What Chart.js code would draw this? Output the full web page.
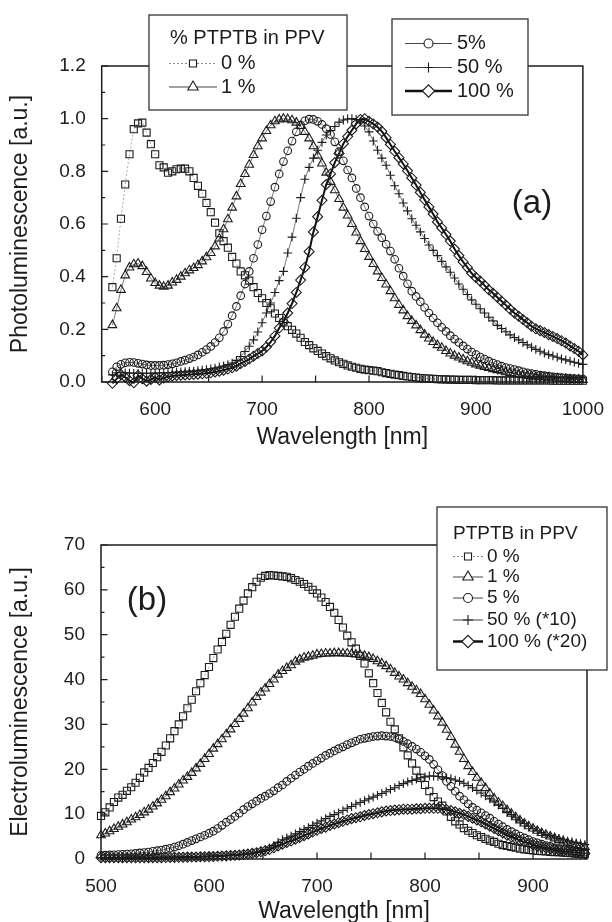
<!DOCTYPE html>
<html lang="en">
<head>
<meta charset="UTF-8">
<script src="https://cdn.jsdelivr.net/npm/chart.js"></script>
<style>
  body { margin: 0; width: 612px; height: 922px; overflow: hidden; background: #fff; }
  canvas { position: absolute; left: 0; }
  #pl { top: 0; }
  #el { top: 461px; }
</style>
</head>
<body>
<canvas id="pl" width="612" height="461"></canvas>
<canvas id="el" width="612" height="461"></canvas>
<script>
// ---------- (a) photoluminescence, normalised ----------
const plWavelength = [
  560, 564, 568, 572, 576, 580, 584, 588, 592, 596,
  600, 604, 608, 612, 616, 620, 624, 628, 632, 636,
  640, 644, 648, 652, 656, 660, 664, 668, 672, 676,
  680, 684, 688, 692, 696, 700, 704, 708, 712, 716,
  720, 724, 728, 732, 736, 740, 744, 748, 752, 756,
  760, 764, 768, 772, 776, 780, 784, 788, 792, 796,
  800, 804, 808, 812, 816, 820, 824, 828, 832, 836,
  840, 844, 848, 852, 856, 860, 864, 868, 872, 876,
  880, 884, 888, 892, 896, 900, 904, 908, 912, 916,
  920, 924, 928, 932, 936, 940, 944, 948, 952, 956,
  960, 964, 968, 972, 976, 980, 984, 988, 992, 996,
  1000
];
const pl0 = [
  .36, .47, .62, .75, .865, .96, .982, .985, .947, .903,
  .865, .823, .815, .795, .80, .808, .81, .81, .80, .775,
  .745, .715, .68, .645, .605, .565, .535, .51, .475, .45,
  .42, .405, .385, .36, .338, .318, .30, .28, .26, .243,
  .226, .212, .198, .184, .168, .152, .14, .128, .118, .108,
  .098, .09, .082, .075, .069, .063, .058, .054, .05, .047,
  .045, .043, .041, .037, .034, .031, .028, .026, .023, .021,
  .019, .017, .015, .014, .013, .012, .011, .01, .01, .009,
  .009, .008, .008, .008, .008, .007, .007, .007, .007, .007,
  .006, .006, .006, .006, .006, .006, .006, .006, .006, .006,
  .006, .006, .006, .005, .005, .005, .005, .005, .005, .005,
  .005
];
const pl1 = [
  .216, .28, .35, .405, .435, .447, .45, .44, .418, .393,
  .376, .366, .362, .366, .378, .388, .40, .413, .424, .433,
  .444, .458, .474, .49, .515, .545, .58, .618, .662, .705,
  .752, .79, .825, .862, .895, .925, .953, .975, .99, .997,
  1.0, .998, .994, .985, .972, .95, .925, .895, .86, .83,
  .795, .76, .728, .695, .662, .632, .6, .568, .535, .505,
  .475, .448, .42, .395, .37, .345, .318, .293, .272, .25,
  .232, .215, .197, .18, .165, .152, .14, .13, .118, .108,
  .1, .093, .086, .079, .073, .067, .062, .057, .053, .049,
  .045, .041, .037, .034, .031, .028, .026, .024, .022, .02,
  .018, .017, .015, .014, .013, .012, .011, .01, .009, .009,
  .008
];
const pl5 = [
  .039, .058, .067, .073, .075, .074, .071, .068, .065, .063,
  .063, .063, .064, .066, .069, .073, .078, .083, .089, .095,
  .103, .113, .123, .135, .15, .168, .192, .22, .252, .287,
  .328, .372, .42, .47, .522, .578, .63, .685, .74, .79,
  .837, .878, .915, .95, .976, .992, .998, .997, .99, .978,
  .962, .94, .912, .875, .84, .805, .775, .735, .70, .665,
  .63, .60, .572, .548, .523, .497, .466, .432, .402, .373,
  .345, .325, .305, .283, .262, .243, .225, .208, .192, .176,
  .163, .15, .137, .125, .114, .104, .095, .087, .079, .072,
  .066, .06, .055, .051, .047, .043, .039, .035, .032, .029,
  .026, .024, .022, .02, .019, .017, .016, .014, .013, .012,
  .011
];
const pl50 = [
  .027, .035, .036, .035, .034, .033, .033, .033, .033, .033,
  .034, .034, .035, .035, .036, .037, .038, .039, .04, .041,
  .043, .045, .047, .05, .053, .057, .061, .066, .072, .082,
  .097, .116, .136, .16, .19, .225, .262, .3, .34, .385,
  .42, .49, .55, .622, .70, .77, .815, .85, .88, .91,
  .938, .955, .97, .987, .995, .999, 1.0, .997, .99, .972,
  .95, .915, .88, .85, .823, .785, .745, .715, .68, .65,
  .62, .595, .57, .545, .52, .50, .48, .458, .437, .417,
  .395, .372, .352, .332, .312, .295, .278, .262, .246, .232,
  .215, .203, .191, .179, .169, .16, .15, .141, .132, .124,
  .117, .11, .104, .099, .094, .088, .084, .079, .075, .071,
  .067
];
const pl100 = [
  -.005, .012, .028, .018, .005, -.003, .025, .012, .003, .01,
  .018, .008, .015, .02, .023, .025, .026, .027, .028, .029,
  .03, .031, .033, .035, .038, .041, .045, .049, .054, .06,
  .07, .078, .087, .098, .108, .118, .133, .152, .175, .205,
  .229, .262, .298, .34, .387, .435, .495, .57, .628, .69,
  .75, .79, .833, .868, .905, .932, .956, .98, .997, 1.0,
  .99, .98, .968, .952, .928, .902, .876, .852, .828, .802,
  .775, .748, .72, .692, .665, .638, .608, .585, .56, .535,
  .505, .48, .456, .435, .413, .397, .383, .367, .35, .337,
  .322, .307, .292, .276, .262, .25, .237, .225, .212, .202,
  .195, .188, .18, .173, .165, .157, .148, .137, .127, .117,
  .103
];
const plLabels = ['0 %', '1 %', '5%', '50 %', '100 %'];

// ---------- (b) electroluminescence ----------
const elWavelength = [
  500, 504, 508, 512, 516, 520, 524, 528, 532, 536,
  540, 544, 548, 552, 556, 560, 564, 568, 572, 576,
  580, 584, 588, 592, 596, 600, 604, 608, 612, 616,
  620, 624, 628, 632, 636, 640, 644, 648, 652, 656,
  660, 664, 668, 672, 676, 680, 684, 688, 692, 696,
  700, 704, 708, 712, 716, 720, 724, 728, 732, 736,
  740, 744, 748, 752, 756, 760, 764, 768, 772, 776,
  780, 784, 788, 792, 796, 800, 804, 808, 812, 816,
  820, 824, 828, 832, 836, 840, 844, 848, 852, 856,
  860, 864, 868, 872, 876, 880, 884, 888, 892, 896,
  900, 904, 908, 912, 916, 920, 924, 928, 932, 936,
  940, 944, 948
];
const el0 = [
  9.6, 10.4, 11.5, 12.7, 13.7, 14.3, 15.2, 16.0, 17.0, 18.1,
  19.3, 20.3, 21.4, 22.7, 23.9, 25.3, 26.9, 28.5, 30.0, 31.8,
  33.6, 35.5, 37.4, 39.2, 41.0, 42.8, 44.8, 46.7, 48.4, 50.2,
  52.2, 54.0, 55.8, 57.6, 59.2, 60.6, 61.8, 62.7, 63.1, 63.3,
  63.2, 63.1, 63.0, 62.9, 62.6, 62.2, 61.8, 61.3, 60.7, 60.0,
  59.2, 58.3, 57.3, 56.2, 54.9, 53.3, 51.6, 49.8, 48.3, 46.9,
  45.3, 43.6, 41.4, 39.2, 37.0, 34.8, 32.7, 30.6, 28.9, 26.9,
  24.9, 23.1, 21.3, 19.7, 18.1, 16.5, 15.1, 13.8, 12.8, 11.9,
  10.6, 9.4, 8.4, 7.7, 6.9, 6.3, 5.8, 5.3, 4.9, 4.5,
  4.1, 3.8, 3.4, 3.1, 2.9, 2.7, 2.5, 2.3, 2.15, 2.0,
  1.9, 1.8, 1.75, 1.7, 1.6, 1.55, 1.5, 1.4, 1.35, 1.3,
  1.2, 1.15, 1.1
];
const el1 = [
  5.3, 5.7, 6.2, 6.7, 7.2, 7.7, 8.2, 8.8, 9.3, 9.8,
  10.4, 11.0, 11.7, 12.4, 13.2, 14.0, 14.9, 15.7, 16.6, 17.5,
  18.3, 19.2, 20.2, 21.2, 22.3, 23.4, 24.6, 25.6, 26.7, 27.8,
  28.9, 30.1, 31.2, 32.4, 33.6, 34.9, 36.1, 37.1, 38.0, 39.0,
  40.0, 41.1, 41.9, 42.6, 43.2, 44.0, 44.5, 44.9, 45.1, 45.3,
  45.6, 45.7, 45.8, 45.8, 45.9, 45.9, 45.8, 45.8, 45.7, 45.6,
  45.5, 45.3, 45.0, 44.6, 44.1, 43.6, 43.0, 42.3, 41.5, 40.7,
  40.0, 39.2, 38.4, 37.6, 36.8, 35.6, 34.4, 33.1, 31.8, 30.4,
  28.8, 27.2, 25.5, 23.9, 22.3, 20.7, 19.4, 18.1, 17.0, 15.8,
  14.6, 13.5, 12.6, 11.8, 10.9, 10.1, 9.3, 8.6, 7.9, 7.3,
  6.8, 6.3, 5.8, 5.4, 5.0, 4.6, 4.2, 3.9, 3.6, 3.3,
  3.1, 2.9, 2.7
];
const el5 = [
  0.8, 0.85, 0.9, 0.95, 1.0, 1.05, 1.1, 1.15, 1.25, 1.35,
  1.45, 1.55, 1.7, 1.85, 2.0, 2.2, 2.4, 2.65, 2.95, 3.3,
  3.7, 4.1, 4.5, 4.9, 5.3, 5.75, 6.2, 6.8, 7.5, 8.2,
  8.8, 9.5, 10.2, 11.0, 11.7, 12.3, 12.9, 13.5, 14.0, 14.6,
  15.2, 15.9, 16.5, 17.3, 18.0, 18.7, 19.4, 20.0, 20.7, 21.3,
  21.9, 22.5, 23.1, 23.6, 24.1, 24.6, 25.0, 25.5, 25.9, 26.3,
  26.7, 26.9, 27.1, 27.3, 27.4, 27.5, 27.4, 27.3, 27.1, 26.7,
  26.2, 25.7, 25.1, 24.5, 23.8, 23.0, 22.2, 21.1, 19.9, 18.6,
  17.3, 16.2, 15.1, 14.0, 13.2, 12.3, 11.5, 10.9, 10.3, 9.7,
  9.1, 8.4, 7.8, 7.2, 6.6, 6.1, 5.6, 5.1, 4.7, 4.3,
  3.9, 3.6, 3.3, 3.0, 2.8, 2.5, 2.3, 2.1, 1.95, 1.8,
  1.7, 1.6, 1.5
];
const el50 = [
  0.3, 0.3, 0.3, 0.3, 0.3, 0.32, 0.33, 0.34, 0.35, 0.36,
  0.37, 0.38, 0.39, 0.4, 0.41, 0.42, 0.43, 0.44, 0.45, 0.47,
  0.49, 0.51, 0.53, 0.56, 0.59, 0.62, 0.66, 0.7, 0.75, 0.8,
  0.86, 0.93, 1.0, 1.1, 1.2, 1.35, 1.55, 1.8, 2.1, 2.5,
  3.0, 3.7, 4.3, 4.7, 5.1, 5.6, 6.1, 6.6, 7.0, 7.5,
  8.0, 8.5, 9.0, 9.5, 9.9, 10.3, 10.8, 11.3, 11.7, 12.2,
  12.6, 13.0, 13.4, 13.8, 14.2, 14.6, 15.0, 15.5, 15.9, 16.4,
  16.8, 17.2, 17.5, 17.8, 18.1, 18.3, 18.5, 18.5, 18.4, 18.3,
  18.1, 17.9, 17.6, 17.3, 16.9, 16.4, 15.9, 15.3, 14.7, 14.1,
  13.4, 12.7, 12.0, 11.3, 10.5, 9.9, 9.2, 8.5, 7.9, 7.3,
  6.8, 6.3, 5.9, 5.5, 5.2, 4.9, 4.6, 4.3, 4.0, 3.8,
  3.6, 3.4, 3.2
];
const el100 = [
  0.3, 0.3, 0.3, 0.3, 0.3, 0.3, 0.3, 0.3, 0.3, 0.3,
  0.3, 0.3, 0.3, 0.3, 0.3, 0.32, 0.34, 0.36, 0.38, 0.4,
  0.42, 0.44, 0.46, 0.48, 0.5, 0.53, 0.56, 0.6, 0.65, 0.7,
  0.76, 0.83, 0.9, 1.0, 1.1, 1.25, 1.4, 1.6, 1.85, 2.1,
  2.5, 2.9, 3.3, 3.7, 4.0, 4.4, 4.8, 5.2, 5.6, 6.0,
  6.4, 6.8, 7.1, 7.5, 7.8, 8.1, 8.4, 8.7, 9.0, 9.2,
  9.4, 9.7, 9.9, 10.1, 10.3, 10.5, 10.7, 10.8, 10.9, 11.0,
  11.1, 11.1, 11.1, 11.2, 11.2, 11.3, 11.3, 11.3, 11.3, 11.2,
  11.0, 10.8, 10.5, 10.2, 9.9, 9.5, 9.1, 8.7, 8.3, 7.8,
  7.3, 6.8, 6.3, 5.8, 5.3, 4.9, 4.5, 4.1, 3.8, 3.5,
  3.2, 2.9, 2.7, 2.5, 2.3, 2.1, 1.9, 1.7, 1.6, 1.5,
  1.4, 1.3, 1.2
];
const elLabels = ['0 %', '1 %', '5 %', '50 % (*10)', '100 % (*20)'];

// ---------- look ----------
const FONT = '"Liberation Sans", Arial, Helvetica, sans-serif';
const INK = '#1c1c1c';

// one look per blend (0, 1, 5, 50, 100 %); hollow symbols like Origin
// keyRadius = symbol size inside the legend boxes (drawn a bit larger there)
const looks = [
  { pointStyle: 'rect',     radius: 5.0, keyRadius: 5.0, width: 0.7, dash: [2, 2], color: '#888' },
  { pointStyle: 'triangle', radius: 5.0, keyRadius: 6.0, width: 0.7, dash: [],     color: '#444' },
  { pointStyle: 'circle',   radius: 3.8, keyRadius: 4.5, width: 0.7, dash: [],     color: '#444' },
  { pointStyle: 'cross',    radius: 4.4, keyRadius: 5.0, width: 0.7, dash: [],     color: '#444' },
  { pointStyle: 'rectRot',  radius: 5.0, keyRadius: 6.2, width: 2,   dash: [],     color: '#111' }
];

function series(label, xs, ys, look) {
  return {
    label: label,
    data: xs.map((x, i) => ({ x: x, y: ys[i] })),
    borderColor: look.color,
    borderWidth: look.width,
    borderDash: look.dash,
    pointStyle: look.pointStyle,
    pointRadius: look.radius,
    keyRadius: look.keyRadius,
    pointBorderColor: INK,
    pointBackgroundColor: 'rgba(255,255,255,0)',
    pointBorderWidth: 1.1,
    tension: 0,
    fill: false,
    clip: false
  };
}

// legend box in the Origin style, drawn over the frame
function drawBox(ctx, chart, b) {
  ctx.setLineDash([]);
  ctx.fillStyle = '#fff';
  ctx.fillRect(b.x, b.y, b.w, b.h);
  ctx.strokeStyle = '#333';
  ctx.lineWidth = 1.3;
  ctx.strokeRect(b.x, b.y, b.w, b.h);
  ctx.font = b.size + 'px ' + FONT;
  ctx.textAlign = 'left';
  ctx.textBaseline = 'middle';
  if (b.title) {
    ctx.fillStyle = INK;
    ctx.fillText(b.title, b.titleX, b.titleY);
  }
  b.rows.forEach(r => {
    const ds = chart.data.datasets[r.ds];
    ctx.strokeStyle = ds.borderColor;
    ctx.lineWidth = ds.borderWidth > 1 ? 2.5 : 1;
    ctx.setLineDash(ds.borderDash);
    ctx.beginPath();
    ctx.moveTo(b.lineX0, r.y);
    ctx.lineTo(b.lineX1, r.y);
    ctx.stroke();
    ctx.setLineDash([]);
    ctx.fillStyle = '#fff';
    ctx.strokeStyle = INK;
    ctx.lineWidth = 1.1;
    Chart.helpers.drawPoint(ctx, { pointStyle: ds.pointStyle, radius: ds.keyRadius, rotation: 0, borderWidth: 1.1 },
      (b.lineX0 + b.lineX1) / 2, r.y);
    ctx.fillStyle = INK;
    ctx.fillText(ds.label, b.textX, r.y);
  });
}

const panelDecor = {
  id: 'panelDecor',
  beforeDatasetsDraw(chart) {
    const { ctx, chartArea: a, scales: { x, y } } = chart;
    ctx.save();
    ctx.strokeStyle = INK;
    ctx.lineWidth = 1.5;
    ctx.strokeRect(a.left, a.top, a.width, a.height);
    // inward ticks, minor ones halfway on y
    ctx.lineWidth = 1.2;
    ctx.beginPath();
    x.ticks.forEach(t => {
      const p = x.getPixelForValue(t.value);
      ctx.moveTo(p, a.bottom);
      ctx.lineTo(p, a.bottom - 6.5);
    });
    y.ticks.forEach((t, i) => {
      const p = y.getPixelForValue(t.value);
      ctx.moveTo(a.left, p);
      ctx.lineTo(a.left + 6.5, p);
      if (i > 0) {
        const m = y.getPixelForValue((t.value + y.ticks[i - 1].value) / 2);
        ctx.moveTo(a.left, m);
        ctx.lineTo(a.left + 3.5, m);
      }
    });
    ctx.stroke();
    ctx.restore();
  },
  afterDraw(chart, args, o) {
    const { ctx, chartArea: a } = chart;
    ctx.save();
    ctx.fillStyle = INK;
    ctx.textAlign = 'center';
    ctx.textBaseline = 'middle';
    ctx.font = '23px ' + FONT;
    ctx.fillText(o.xTitle, (a.left + a.right) / 2, a.bottom + o.xTitleGap);
    ctx.save();
    ctx.translate(21, (a.top + a.bottom) / 2);
    ctx.rotate(-Math.PI / 2);
    ctx.fillText(o.yTitle, 0, 0);
    ctx.restore();
    ctx.font = '33px ' + FONT;
    ctx.fillText(o.tag, o.tagX, o.tagY);
    o.boxes.forEach(b => drawBox(ctx, chart, b));
    ctx.restore();
  }
};

const tickFont = { family: FONT, size: 19 };

function axes(xmin, xmax, ymin, ymax, ystep, yfmt, ywidth, xheight) {
  return {
    x: {
      type: 'linear', min: xmin, max: xmax,
      grid: { display: false }, border: { display: false },
      ticks: { stepSize: 50, autoSkip: false, maxRotation: 0, padding: 8, color: INK, font: tickFont,
               callback: v => (v % 100 === 0 ? String(v) : '') },
      afterFit: s => { s.height = xheight; }
    },
    y: {
      min: ymin, max: ymax,
      grid: { display: false }, border: { display: false },
      ticks: { stepSize: ystep, padding: 8, color: INK, font: tickFont, callback: yfmt },
      afterFit: s => { s.width = ywidth; }
    }
  };
}

const plSets = [pl0, pl1, pl5, pl50, pl100];
const elSets = [el0, el1, el5, el50, el100];

new Chart(document.getElementById('pl'), {
  type: 'line',
  data: { datasets: plSets.map((ys, i) => series(plLabels[i], plWavelength, ys, looks[i])) },
  options: {
    responsive: false,
    animation: false,
    layout: { padding: { top: 66, right: 24, bottom: 0, left: 0 } },
    plugins: {
      legend: { display: false },
      tooltip: { enabled: false },
      panelDecor: {
        xTitle: 'Wavelength [nm]', xTitleGap: 55.5,
        yTitle: 'Photoluminescence [a.u.]',
        tag: '(a)', tagX: 532, tagY: 204,
        boxes: [
          { x: 149, y: 15, w: 198, h: 95, size: 20, title: '% PTPTB in PPV', titleX: 170, titleY: 38,
            lineX0: 169, lineX1: 217, textX: 221, rows: [{ ds: 0, y: 63.5 }, { ds: 1, y: 87 }] },
          { x: 392, y: 19, w: 136, h: 96, size: 20,
            lineX0: 405, lineX1: 452, textX: 457, rows: [{ ds: 2, y: 43.5 }, { ds: 3, y: 67.5 }, { ds: 4, y: 91 }] }
        ]
      }
    },
    scales: axes(550, 1000, 0, 1.2, 0.2, v => v.toFixed(1), 101.7, 79)
  },
  plugins: [panelDecor]
});

new Chart(document.getElementById('el'), {
  type: 'line',
  data: { datasets: elSets.map((ys, i) => series(elLabels[i], elWavelength, ys, looks[i])) },
  options: {
    responsive: false,
    animation: false,
    layout: { padding: { top: 84, right: 25, bottom: 0, left: 0 } },
    plugins: {
      legend: { display: false },
      tooltip: { enabled: false },
      panelDecor: {
        xTitle: 'Wavelength [nm]', xTitleGap: 52.5,
        yTitle: 'Electroluminescence [a.u.]',
        tag: '(b)', tagX: 147, tagY: 140,
        boxes: [
          { x: 437, y: 46, w: 170, h: 163, size: 19, title: 'PTPTB in PPV', titleX: 453, titleY: 73,
            lineX0: 453, lineX1: 483, textX: 487,
            rows: [{ ds: 0, y: 95.5 }, { ds: 1, y: 116 }, { ds: 2, y: 137 }, { ds: 3, y: 159 }, { ds: 4, y: 180.5 }] }
        ]
      }
    },
    scales: axes(500, 950, 0, 70, 10, v => String(v), 101, 63)
  },
  plugins: [panelDecor]
});
</script>
</body>
</html>
